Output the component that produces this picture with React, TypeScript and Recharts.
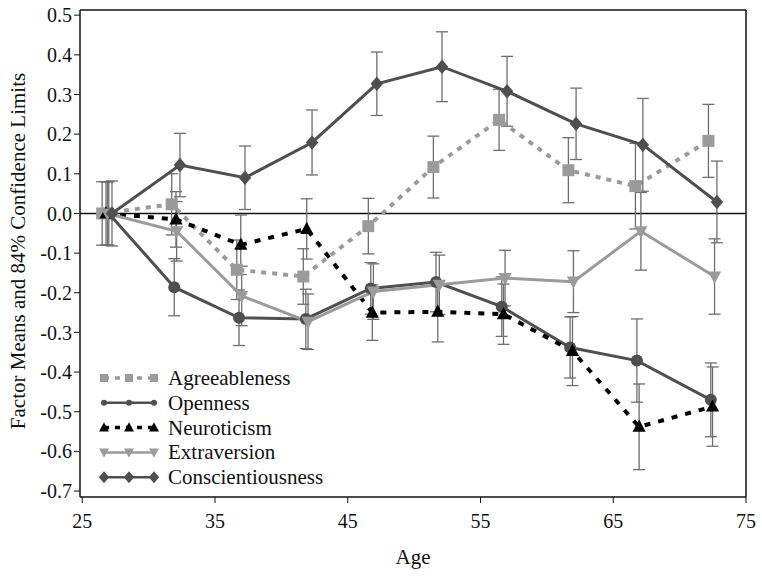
import React from "react";
import {
  ComposedChart,
  Line,
  XAxis,
  YAxis,
  ErrorBar,
  ReferenceLine,
  Label,
  Legend,
} from "recharts";

const FONT = "'Liberation Serif', 'Times New Roman', serif";
const DARK = "#4f4f4f";
const LIGHT = "#9b9b9b";
const BAR = "#6e6e6e";

const xTicks = [25, 35, 45, 55, 65, 75];
const yTicks = [0.5, 0.4, 0.3, 0.2, 0.1, 0, -0.1, -0.2, -0.3, -0.4, -0.5, -0.6, -0.7];

const agreeAges = [26.5, 31.74, 36.64, 41.65, 46.55, 51.45, 56.4, 61.62, 66.67, 72.17];
const agreeMeans = [0, 0.023, -0.142, -0.159, -0.032, 0.117, 0.236, 0.109, 0.069, 0.183];
const agreeErr = [0.08, 0.077, 0.075, 0.07, 0.07, 0.078, 0.077, 0.082, 0.108, 0.092];

const openAges = [27.0, 31.93, 36.81, 41.84, 46.73, 51.65, 56.6, 61.75, 66.78, 72.35];
const openMeans = [0, -0.186, -0.263, -0.266, -0.189, -0.173, -0.235, -0.338, -0.371, -0.47];
const openErr = [0.08, 0.072, 0.07, 0.075, 0.065, 0.075, 0.075, 0.077, 0.105, 0.093];

const neuroAges = [26.79, 32.06, 36.94, 41.91, 46.85, 51.78, 56.73, 61.93, 66.95, 72.48];
const neuroMeans = [0, -0.015, -0.079, -0.039, -0.25, -0.248, -0.254, -0.347, -0.538, -0.487];
const neuroErr = [0.08, 0.07, 0.075, 0.076, 0.07, 0.076, 0.076, 0.087, 0.108, 0.1];

const extraAges = [26.9, 32.11, 37.01, 42.01, 46.93, 51.9, 56.85, 62.0, 67.08, 72.63];
const extraMeans = [0, -0.045, -0.208, -0.273, -0.197, -0.18, -0.163, -0.172, -0.045, -0.159];
const extraErr = [0.08, 0.075, 0.075, 0.07, 0.07, 0.075, 0.07, 0.078, 0.098, 0.095];

const conscAges = [27.24, 32.36, 37.26, 42.31, 47.19, 52.1, 57.0, 62.2, 67.23, 72.81];
const conscMeans = [0, 0.122, 0.09, 0.179, 0.327, 0.37, 0.308, 0.226, 0.173, 0.029];
const conscErr = [0.082, 0.08, 0.08, 0.082, 0.08, 0.088, 0.088, 0.09, 0.117, 0.103];

type Shape = "square" | "circle" | "up" | "down" | "diamond";

const toRows = (ages: number[], means: number[], errs: number[]) =>
  ages.map((age, i) => ({ age, v: means[i], err: errs[i] }));

const series = [
  { name: "Agreeableness", data: toRows(agreeAges, agreeMeans, agreeErr), color: LIGHT, width: 4, dash: "5 6", shape: "square" as Shape },
  { name: "Openness", data: toRows(openAges, openMeans, openErr), color: DARK, width: 3, dash: undefined, shape: "circle" as Shape },
  { name: "Neuroticism", data: toRows(neuroAges, neuroMeans, neuroErr), color: "#000", width: 4, dash: "6 8", shape: "up" as Shape },
  { name: "Extraversion", data: toRows(extraAges, extraMeans, extraErr), color: LIGHT, width: 3, dash: undefined, shape: "down" as Shape },
  { name: "Conscientiousness", data: toRows(conscAges, conscMeans, conscErr), color: DARK, width: 3, dash: undefined, shape: "diamond" as Shape },
];

const Marker = ({ shape, cx, cy, s, fill }: { shape: Shape; cx: number; cy: number; s: number; fill: string }) => {
  if (cx == null || cy == null) return null;
  switch (shape) {
    case "square":
      return <rect x={cx - s / 2} y={cy - s / 2} width={s} height={s} fill={fill} />;
    case "circle":
      return <circle cx={cx} cy={cy} r={s / 2} fill={fill} />;
    case "up":
      return <polygon points={`${cx},${cy - s * 0.6} ${cx - s * 0.55},${cy + s * 0.42} ${cx + s * 0.55},${cy + s * 0.42}`} fill={fill} />;
    case "down":
      return <polygon points={`${cx - s * 0.55},${cy - s * 0.42} ${cx + s * 0.55},${cy - s * 0.42} ${cx},${cy + s * 0.6}`} fill={fill} />;
    default:
      return <polygon points={`${cx},${cy - s * 0.6} ${cx + s * 0.52},${cy} ${cx},${cy + s * 0.6} ${cx - s * 0.52},${cy}`} fill={fill} />;
  }
};

const legendSizes: Record<Shape, number> = { square: 8, circle: 6, up: 9, down: 9, diamond: 10 };

const LegendBox = () => (
  <svg width={260} height={130} style={{ display: "block" }}>
    {series.map((s, i) => {
      const y = 15 + i * 24.8;
      return (
        <g key={s.name}>
          <line x1={104} x2={154} y1={y} y2={y} stroke={s.color} strokeWidth={s.width - 0.5} strokeDasharray={s.dash ? "5 6" : undefined} transform="translate(-92,0)" />
          {[104, 129, 154].map((x) => (
            <Marker key={x} shape={s.shape} cx={x - 92} cy={y} s={legendSizes[s.shape]} fill={s.color} />
          ))}
          <text x={76} y={y + 7} fontFamily={FONT} fontSize={21} fill="#111">
            {s.name}
          </text>
        </g>
      );
    })}
  </svg>
);

export default function App() {
  return (
    <div style={{ position: "absolute", left: 0, top: 0, width: 762, height: 578, background: "#fff" }}>
      <ComposedChart width={762} height={578} margin={{ top: 10, right: 16, bottom: 0, left: 0 }}>
        <XAxis
          type="number"
          dataKey="age"
          domain={[24.83, 75]}
          ticks={xTicks}
          allowDataOverflow
          height={81}
          tickSize={6}
          tickMargin={11}
          axisLine={{ stroke: "#111", strokeWidth: 1.5 }}
          tickLine={{ stroke: "#111" }}
          tick={{ fontFamily: FONT, fontSize: 20, fill: "#111" }}
        >
          <Label value="Age" position="insideBottom" offset={14} style={{ fontFamily: FONT, fontSize: 21, fill: "#111" }} />
        </XAxis>
        <YAxis
          type="number"
          domain={[-0.715, 0.513]}
          ticks={yTicks}
          allowDataOverflow
          width={80}
          tickSize={6}
          tickMargin={2}
          axisLine={{ stroke: "#111", strokeWidth: 1.5 }}
          tickLine={{ stroke: "#111" }}
          tickFormatter={(v: number) => v.toFixed(1)}
          tick={{ fontFamily: FONT, fontSize: 20, fill: "#111" }}
        >
          <Label
            content={() => (
              <text
                x={18}
                y={251}
                transform="rotate(-90 18 251)"
                textAnchor="middle"
                dy="0.35em"
                fontFamily={FONT}
                fontSize={21}
                fill="#111"
              >
                Factor Means and 84% Confidence Limits
              </text>
            )}
          />
        </YAxis>
        <ReferenceLine y={0.513} stroke="#111" strokeWidth={1.5} />
        <ReferenceLine x={75} stroke="#111" strokeWidth={1.5} />
        <ReferenceLine y={0} stroke="#111" strokeWidth={1.5} />
        {series.map((s) => (
          <Line
            key={s.name}
            data={s.data}
            dataKey="v"
            name={s.name}
            stroke={s.color}
            strokeWidth={s.width}
            strokeDasharray={s.dash}
            type="linear"
            isAnimationActive={false}
            activeDot={false}
            dot={(p: any) => (
              <Marker key={`${s.name}-${p.index}`} shape={s.shape} cx={p.cx} cy={p.cy} s={12} fill={s.color} />
            )}
          >
            <ErrorBar dataKey="err" direction="y" width={6} stroke={BAR} strokeWidth={1.3} />
          </Line>
        ))}
        <Legend
          layout="horizontal"
          verticalAlign="middle"
          align="center"
          wrapperStyle={{ left: 92, top: 363, width: 260, height: 130 }}
          content={() => <LegendBox />}
        />
      </ComposedChart>
    </div>
  );
}
